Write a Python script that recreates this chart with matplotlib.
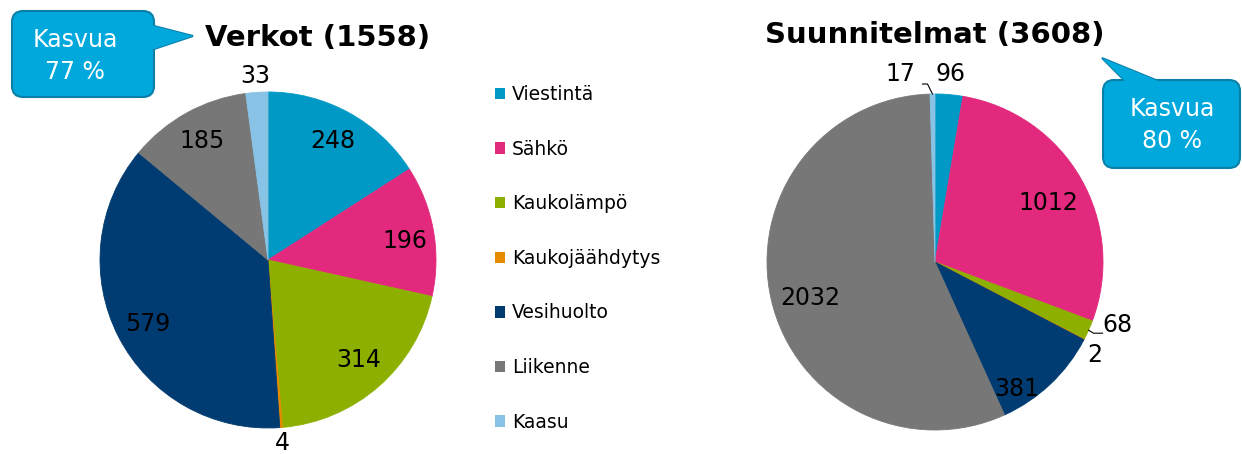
import numpy as np
import matplotlib
matplotlib.use("Agg")
import matplotlib.pyplot as plt
from matplotlib.patches import Patch, FancyBboxPatch, Polygon

plt.rcParams['font.family'] = ['DejaVu Sans']

categories = ["Viestintä", "Sähkö", "Kaukolämpö", "Kaukojäähdytys", "Vesihuolto", "Liikenne", "Kaasu"]
verkot = [248, 196, 314, 4, 579, 185, 33]
suunnitelmat = [96, 1012, 68, 2, 381, 2032, 17]
title_left = "Verkot (1558)"
title_right = "Suunnitelmat (3608)"
callout_left = "Kasvua\n77 %"
callout_right = "Kasvua\n80 %"

colors = ["#0099C6", "#E2297D", "#8DB000", "#E68A00", "#003C71", "#777777", "#88C3E5"]

W, H = 1242, 454
fig = plt.figure(figsize=(W / 100, H / 100), dpi=100)
ax = fig.add_axes([0, 0, 1, 1])

R = 168
cL = (268, H - 260)
cR = (935, H - 262)

# label placement styles: (radius factor, angle offset deg)
left_pos = [(0.81, 0), (0.82, -2), (0.80, 1), (1.09, 0), (0.81, 1), (0.81, 0), (1.10, 0)]
right_pos = [(1.12, 0), (0.76, -2.3), (1.15, 5), (1.10, -2.8), (0.90, -10.5), (0.77, 3), (1.14, 9.7)]


def draw_pie(vals, center, pos):
    wedges, _ = ax.pie(vals, colors=colors, startangle=90, counterclock=False,
                       center=center, radius=R, wedgeprops=dict(linewidth=0.6))
    for w in wedges:
        w.set_edgecolor(w.get_facecolor())
    for w, v, (f, dt) in zip(wedges, vals, pos):
        th = np.deg2rad((w.theta1 + w.theta2) / 2 + dt)
        x = center[0] + R * f * np.cos(th)
        y = center[1] + R * f * np.sin(th)
        ax.text(x, y, str(v), ha='center', va='center', fontsize=17, color='black')
    return wedges


wl = draw_pie(verkot, cL, left_pos)
wr = draw_pie(suunnitelmat, cR, right_pos)


def edge_pt(w, center, f=1.0):
    th = np.deg2rad((w.theta1 + w.theta2) / 2)
    return center[0] + R * f * np.cos(th), center[1] + R * f * np.sin(th)


# leader lines on right pie
x0, y0 = edge_pt(wr[6], cR)
ax.plot([x0, x0 - 5, x0 - 10], [y0, y0 + 10, y0 + 10], color='black', lw=0.8)
x0, y0 = edge_pt(wr[2], cR)
ax.plot([x0, x0 + 5, x0 + 14], [y0, y0 - 3, y0 - 3], color='black', lw=0.8)

ax.set_xlim(0, W)
ax.set_ylim(0, H)
ax.set_aspect('equal')
ax.axis('off')

# titles
ax.text(318, H - 38, title_left, ha='center', va='center', fontsize=21, fontweight='bold')
ax.text(935, H - 35, title_right, ha='center', va='center', fontsize=21, fontweight='bold')

# legend
handles = [Patch(facecolor=c, edgecolor='none') for c in colors]
ax.legend(handles, categories, loc='upper left', bbox_to_anchor=(495, H - 85),
          bbox_transform=ax.transData, frameon=False, fontsize=13.5,
          handlelength=0.55, handleheight=0.55, handletextpad=0.35,
          labelspacing=1.9, borderpad=0, borderaxespad=0)

# callouts
fill = "#00A8DC"
edge = "#0B7FA8"


def callout(x0, y0, x1, y1, tri, text, tx, ty):
    tri_pts = [(px, H - py) for px, py in tri]
    ax.add_patch(Polygon(tri_pts, closed=True, facecolor=fill, edgecolor=edge, lw=1.5, zorder=5))
    ax.add_patch(FancyBboxPatch((x0, H - y1), x1 - x0, y1 - y0,
                                boxstyle="round,pad=0,rounding_size=11",
                                facecolor=fill, edgecolor=edge, lw=1.5, zorder=6))
    ax.add_patch(Polygon(tri_pts, closed=True, facecolor=fill, edgecolor='none', zorder=7))
    ax.text(tx, H - ty, text, ha='center', va='center', fontsize=17, color='white',
            linespacing=1.45, zorder=8)


callout(12, 11, 154, 97, [(150, 25), (193, 36), (151, 50)], callout_left, 75, 56)
callout(1103, 80, 1240, 168, [(1127, 83), (1102, 58), (1163, 83)], callout_right, 1172, 125)

fig.savefig("out.png", dpi=100)
